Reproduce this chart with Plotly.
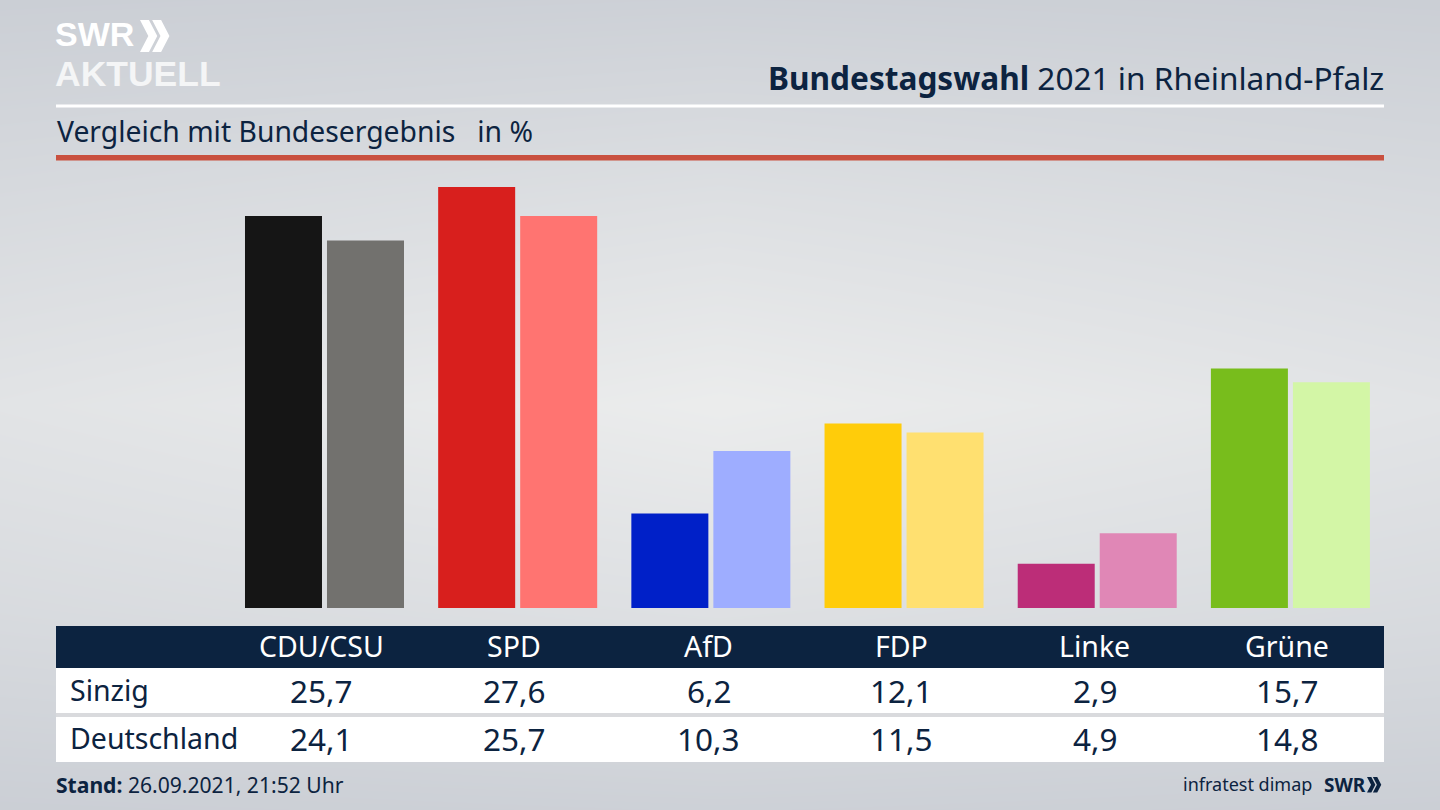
import plotly.graph_objects as go

W, H = 1440, 810
parties = ["CDU/CSU", "SPD", "AfD", "FDP", "Linke", "Grüne"]
sinzig = [25.7, 27.6, 6.2, 12.1, 2.9, 15.7]
deutschland = [24.1, 25.7, 10.3, 11.5, 4.9, 14.8]
row_names = ["Sinzig", "Deutschland"]
colors_local = ["#151515", "#d81f1d", "#0020c8", "#ffcc0a", "#bc2d78", "#78bd1c"]
colors_national = ["#72716e", "#ff7471", "#9eadff", "#ffe070", "#e087b6", "#d3f6a6"]

bg_x = [0, 0.5, 1]
bg_y = [0, 0.25, 0.5, 0.75, 1]
bg_z = [
    [0.08, 0.14, 0.08],
    [0.45, 0.62, 0.45],
    [0.72, 0.98, 0.72],
    [0.42, 0.60, 0.42],
    [0.08, 0.14, 0.08],
]

NAVY = "#0c2340"
FONT = "Noto Sans"
LOGO_FONT = "Liberation Sans"


def fx(px):
    return px / W


def fy(py):
    return 1 - py / H


fig = go.Figure()
fig.add_trace(go.Heatmap(x=bg_x, y=bg_y, z=bg_z, zsmooth="best", showscale=False, hoverinfo="skip",
                         colorscale=[[0, "#c8ccd3"], [1, "#eceded"]], zmin=0, zmax=1,
                         xaxis="x", yaxis="y"))
for name, vals, cols in [(row_names[0], sinzig, colors_local), (row_names[1], deutschland, colors_national)]:
    fig.add_trace(go.Bar(x=parties, y=vals, name=name, marker=dict(color=cols, line=dict(width=0)),
                         xaxis="x2", yaxis="y2", showlegend=False))


def rect(x0, y0, x1, y1, color):
    fig.add_shape(type="rect", xref="paper", yref="paper", x0=fx(x0), x1=fx(x1), y0=fy(y0), y1=fy(y1),
                  fillcolor=color, line=dict(width=0), layer="above")


def chevrons(x, y, h, color):
    depth = h * 0.26
    thick = h * 0.28
    step = h * 0.38
    for dx in (0, step):
        x0 = x + dx
        path = (f"M {fx(x0)} {fy(y)} L {fx(x0 + thick)} {fy(y)} L {fx(x0 + thick + depth)} {fy(y + h / 2)} "
                f"L {fx(x0 + thick)} {fy(y + h)} L {fx(x0)} {fy(y + h)} L {fx(x0 + depth)} {fy(y + h / 2)} Z")
        fig.add_shape(type="path", xref="paper", yref="paper", path=path, fillcolor=color,
                      line=dict(width=0), layer="above")


def text(s, x, y, size, color=NAVY, anchor="left", font=FONT):
    fig.add_annotation(text=s, x=fx(x), y=fy(y), xref="paper", yref="paper", showarrow=False,
                       xanchor=anchor, yanchor="middle", xshift=0, yshift=0,
                       font=dict(size=size, color=color, family=font), borderpad=0, borderwidth=0)


# header rules
rect(56, 104.5, 1384, 107.5, "#ffffff")
rect(56, 155, 1384, 160.5, "#c9503f")

# table bands
rect(56, 626, 1384, 668, NAVY)
rect(56, 668, 1384, 713, "#ffffff")
rect(56, 713, 1384, 717, "#d9dadd")
rect(56, 717, 1384, 762, "#ffffff")

# logo
text("<b>SWR</b>", 55, 34, 34, "#ffffff", font=LOGO_FONT)
chevrons(140, 20, 32, "#ffffff")
text("<b>AKTUELL</b>", 55, 73.5, 35.5, "#f4f5f6", font=LOGO_FONT)

# titles
text("<b>Bundestagswahl</b> 2021 in Rheinland-Pfalz", 1384, 77, 31.6, anchor="right")
text("Vergleich mit Bundesergebnis   in %", 57, 131, 28.3)

# table content
col_x = [321, 514, 708, 901, 1094, 1287]
for cx, party, a, b in zip(col_x, parties, sinzig, deutschland):
    text(party, cx, 646, 28.5, "#ffffff", "center")
    text(f"{a:.1f}".replace(".", ","), cx + 0.5, 690.5, 31.5, anchor="center")
    text(f"{b:.1f}".replace(".", ","), cx + 0.5, 738.5, 31.5, anchor="center")
text(row_names[0], 70, 690, 28.5)
text(row_names[1], 70, 738, 28.5)

# footer
text("<b>Stand:</b> 26.09.2021, 21:52 Uhr", 56, 784.5, 21.1)
text("infratest dimap", 1312, 784, 18, anchor="right")
text("<b>SWR</b>", 1324, 784.5, 19)
chevrons(1367, 777, 15.5, NAVY)

px_per_unit = 421 / 27.6
fig.update_layout(
    width=W, height=H, margin=dict(l=0, r=0, t=0, b=0),
    paper_bgcolor="#dfe1e5", plot_bgcolor="rgba(0,0,0,0)",
    barmode="group", bargap=0.151, bargroupgap=0.061,
    showlegend=False, font=dict(family=FONT, color=NAVY),
    xaxis=dict(domain=[0, 1], range=[0, 1], visible=False, fixedrange=True),
    yaxis=dict(domain=[0, 1], range=[0, 1], visible=False, fixedrange=True),
    xaxis2=dict(domain=[fx(227.9), fx(1387)], anchor="y2", visible=False, fixedrange=True,
                categoryorder="array", categoryarray=parties),
    yaxis2=dict(domain=[fy(608), fy(165)], range=[0, (608 - 165) / px_per_unit], anchor="x2",
                visible=False, fixedrange=True),
)

fig.write_html("out.html", config={"displayModeBar": False},
               post_script="document.body.style.margin='0';document.body.style.overflow='hidden';")
